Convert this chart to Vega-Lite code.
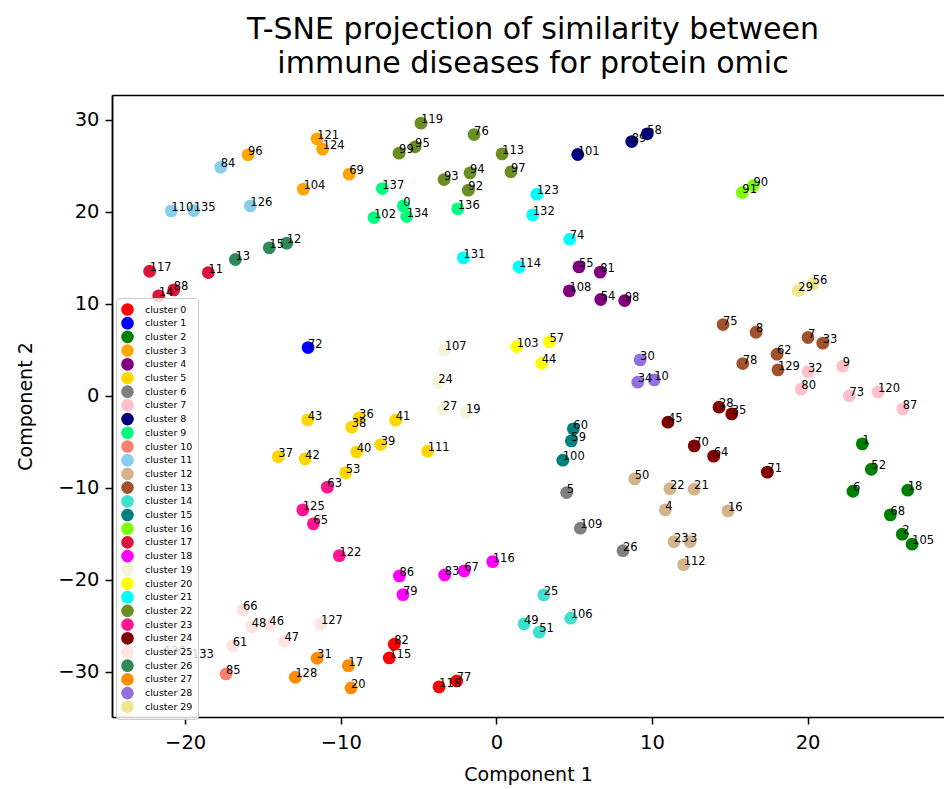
{
  "$schema": "https://vega.github.io/schema/vega-lite/v6.json",
  "width": 832,
  "height": 622,
  "autosize": "none",
  "padding": {"left": 112, "top": 95, "right": 0, "bottom": 72},
  "background": "white",
  "title": {
    "text": ["T-SNE projection of similarity between", "immune diseases for protein omic"],
    "font": "DejaVu Sans", "fontSize": 30, "fontWeight": "normal", "color": "black",
    "anchor": "middle", "offset": 16, "lineHeight": 34, "dx": 5
  },
  "resolve": {"axis": {"x": "independent", "y": "independent"}},
  "config": {
    "view": {"stroke": null},
    "axis": {
      "domainColor": "black", "domainWidth": 1.5, "tickColor": "black", "tickWidth": 1.5, "tickSize": 7,
      "labelFont": "DejaVu Sans", "labelFontSize": 19.5, "labelColor": "black", "labelPadding": 6,
      "titleFont": "DejaVu Sans", "titleFontSize": 19, "titleFontWeight": "normal", "titleColor": "black",
      "grid": false
    }
  },
  "data": {"values": [
    {"id": "82", "x": -6.56, "y": -26.99, "cluster": "cluster 0"},
    {"id": "115", "x": -6.88, "y": -28.48, "cluster": "cluster 0"},
    {"id": "118", "x": -3.68, "y": -31.63, "cluster": "cluster 0"},
    {"id": "77", "x": -2.55, "y": -30.98, "cluster": "cluster 0"},
    {"id": "72", "x": -12.10, "y": 5.25, "cluster": "cluster 1"},
    {"id": "1", "x": 23.52, "y": -5.22, "cluster": "cluster 2"},
    {"id": "52", "x": 24.10, "y": -7.97, "cluster": "cluster 2"},
    {"id": "6", "x": 22.92, "y": -10.36, "cluster": "cluster 2"},
    {"id": "18", "x": 26.44, "y": -10.25, "cluster": "cluster 2"},
    {"id": "68", "x": 25.32, "y": -12.93, "cluster": "cluster 2"},
    {"id": "2", "x": 26.09, "y": -15.03, "cluster": "cluster 2"},
    {"id": "105", "x": 26.72, "y": -16.12, "cluster": "cluster 2"},
    {"id": "96", "x": -15.96, "y": 26.20, "cluster": "cluster 3"},
    {"id": "121", "x": -11.52, "y": 27.93, "cluster": "cluster 3"},
    {"id": "124", "x": -11.16, "y": 26.82, "cluster": "cluster 3"},
    {"id": "69", "x": -9.45, "y": 24.10, "cluster": "cluster 3"},
    {"id": "104", "x": -12.40, "y": 22.47, "cluster": "cluster 3"},
    {"id": "55", "x": 5.31, "y": 14.02, "cluster": "cluster 4"},
    {"id": "81", "x": 6.68, "y": 13.45, "cluster": "cluster 4"},
    {"id": "108", "x": 4.69, "y": 11.41, "cluster": "cluster 4"},
    {"id": "54", "x": 6.71, "y": 10.47, "cluster": "cluster 4"},
    {"id": "98", "x": 8.25, "y": 10.36, "cluster": "cluster 4"},
    {"id": "43", "x": -12.12, "y": -2.61, "cluster": "cluster 5"},
    {"id": "37", "x": -14.01, "y": -6.60, "cluster": "cluster 5"},
    {"id": "42", "x": -12.29, "y": -6.85, "cluster": "cluster 5"},
    {"id": "36", "x": -8.82, "y": -2.39, "cluster": "cluster 5"},
    {"id": "38", "x": -9.29, "y": -3.40, "cluster": "cluster 5"},
    {"id": "41", "x": -6.47, "y": -2.64, "cluster": "cluster 5"},
    {"id": "39", "x": -7.43, "y": -5.29, "cluster": "cluster 5"},
    {"id": "40", "x": -8.97, "y": -6.09, "cluster": "cluster 5"},
    {"id": "111", "x": -4.41, "y": -6.01, "cluster": "cluster 5"},
    {"id": "53", "x": -9.68, "y": -8.34, "cluster": "cluster 5"},
    {"id": "5", "x": 4.52, "y": -10.51, "cluster": "cluster 6"},
    {"id": "109", "x": 5.40, "y": -14.38, "cluster": "cluster 6"},
    {"id": "26", "x": 8.14, "y": -16.82, "cluster": "cluster 6"},
    {"id": "32", "x": 20.03, "y": 2.64, "cluster": "cluster 7"},
    {"id": "9", "x": 22.26, "y": 3.23, "cluster": "cluster 7"},
    {"id": "80", "x": 19.60, "y": 0.73, "cluster": "cluster 7"},
    {"id": "73", "x": 22.69, "y": 0.03, "cluster": "cluster 7"},
    {"id": "120", "x": 24.53, "y": 0.43, "cluster": "cluster 7"},
    {"id": "87", "x": 26.12, "y": -1.41, "cluster": "cluster 7"},
    {"id": "101", "x": 5.23, "y": 26.23, "cluster": "cluster 8"},
    {"id": "89", "x": 8.70, "y": 27.64, "cluster": "cluster 8"},
    {"id": "58", "x": 9.70, "y": 28.48, "cluster": "cluster 8"},
    {"id": "137", "x": -7.33, "y": 22.53, "cluster": "cluster 9"},
    {"id": "0", "x": -5.98, "y": 20.65, "cluster": "cluster 9"},
    {"id": "134", "x": -5.76, "y": 19.49, "cluster": "cluster 9"},
    {"id": "102", "x": -7.86, "y": 19.38, "cluster": "cluster 9"},
    {"id": "136", "x": -2.48, "y": 20.33, "cluster": "cluster 9"},
    {"id": "85", "x": -17.37, "y": -30.22, "cluster": "cluster 10"},
    {"id": "84", "x": -17.71, "y": 24.86, "cluster": "cluster 11"},
    {"id": "110", "x": -20.89, "y": 20.11, "cluster": "cluster 11"},
    {"id": "135", "x": -19.45, "y": 20.14, "cluster": "cluster 11"},
    {"id": "126", "x": -15.81, "y": 20.65, "cluster": "cluster 11"},
    {"id": "50", "x": 8.89, "y": -9.02, "cluster": "cluster 12"},
    {"id": "22", "x": 11.16, "y": -10.08, "cluster": "cluster 12"},
    {"id": "21", "x": 12.71, "y": -10.14, "cluster": "cluster 12"},
    {"id": "4", "x": 10.86, "y": -12.39, "cluster": "cluster 12"},
    {"id": "16", "x": 14.89, "y": -12.50, "cluster": "cluster 12"},
    {"id": "23", "x": 11.42, "y": -15.84, "cluster": "cluster 12"},
    {"id": "3", "x": 12.45, "y": -15.84, "cluster": "cluster 12"},
    {"id": "112", "x": 12.04, "y": -18.34, "cluster": "cluster 12"},
    {"id": "75", "x": 14.57, "y": 7.75, "cluster": "cluster 13"},
    {"id": "8", "x": 16.69, "y": 6.92, "cluster": "cluster 13"},
    {"id": "7", "x": 20.03, "y": 6.34, "cluster": "cluster 13"},
    {"id": "33", "x": 20.98, "y": 5.73, "cluster": "cluster 13"},
    {"id": "62", "x": 18.04, "y": 4.53, "cluster": "cluster 13"},
    {"id": "78", "x": 15.84, "y": 3.51, "cluster": "cluster 13"},
    {"id": "129", "x": 18.10, "y": 2.83, "cluster": "cluster 13"},
    {"id": "25", "x": 3.05, "y": -21.63, "cluster": "cluster 14"},
    {"id": "106", "x": 4.78, "y": -24.16, "cluster": "cluster 14"},
    {"id": "51", "x": 2.76, "y": -25.68, "cluster": "cluster 14"},
    {"id": "49", "x": 1.78, "y": -24.78, "cluster": "cluster 14"},
    {"id": "60", "x": 4.95, "y": -3.59, "cluster": "cluster 15"},
    {"id": "59", "x": 4.82, "y": -4.89, "cluster": "cluster 15"},
    {"id": "100", "x": 4.27, "y": -6.99, "cluster": "cluster 15"},
    {"id": "91", "x": 15.81, "y": 22.10, "cluster": "cluster 16"},
    {"id": "90", "x": 16.52, "y": 22.86, "cluster": "cluster 16"},
    {"id": "117", "x": -22.28, "y": 13.55, "cluster": "cluster 17"},
    {"id": "11", "x": -18.51, "y": 13.40, "cluster": "cluster 17"},
    {"id": "88", "x": -20.73, "y": 11.52, "cluster": "cluster 17"},
    {"id": "14", "x": -21.70, "y": 10.87, "cluster": "cluster 17"},
    {"id": "86", "x": -6.23, "y": -19.57, "cluster": "cluster 18"},
    {"id": "79", "x": -6.00, "y": -21.60, "cluster": "cluster 18"},
    {"id": "83", "x": -3.32, "y": -19.46, "cluster": "cluster 18"},
    {"id": "67", "x": -2.06, "y": -19.02, "cluster": "cluster 18"},
    {"id": "116", "x": -0.23, "y": -18.01, "cluster": "cluster 18"},
    {"id": "107", "x": -3.32, "y": 5.00, "cluster": "cluster 19"},
    {"id": "24", "x": -3.73, "y": 1.45, "cluster": "cluster 19"},
    {"id": "27", "x": -3.44, "y": -1.49, "cluster": "cluster 19"},
    {"id": "19", "x": -1.95, "y": -1.82, "cluster": "cluster 19"},
    {"id": "103", "x": 1.31, "y": 5.36, "cluster": "cluster 20"},
    {"id": "57", "x": 3.41, "y": 5.90, "cluster": "cluster 20"},
    {"id": "44", "x": 2.92, "y": 3.55, "cluster": "cluster 20"},
    {"id": "123", "x": 2.60, "y": 21.92, "cluster": "cluster 21"},
    {"id": "132", "x": 2.34, "y": 19.67, "cluster": "cluster 21"},
    {"id": "74", "x": 4.72, "y": 17.03, "cluster": "cluster 21"},
    {"id": "131", "x": -2.12, "y": 15.00, "cluster": "cluster 21"},
    {"id": "114", "x": 1.46, "y": 14.02, "cluster": "cluster 21"},
    {"id": "119", "x": -4.84, "y": 29.64, "cluster": "cluster 22"},
    {"id": "76", "x": -1.43, "y": 28.40, "cluster": "cluster 22"},
    {"id": "95", "x": -5.22, "y": 27.07, "cluster": "cluster 22"},
    {"id": "99", "x": -6.25, "y": 26.38, "cluster": "cluster 22"},
    {"id": "113", "x": 0.37, "y": 26.30, "cluster": "cluster 22"},
    {"id": "93", "x": -3.36, "y": 23.51, "cluster": "cluster 22"},
    {"id": "94", "x": -1.69, "y": 24.24, "cluster": "cluster 22"},
    {"id": "97", "x": 0.94, "y": 24.35, "cluster": "cluster 22"},
    {"id": "92", "x": -1.80, "y": 22.36, "cluster": "cluster 22"},
    {"id": "63", "x": -10.86, "y": -9.92, "cluster": "cluster 23"},
    {"id": "125", "x": -12.44, "y": -12.39, "cluster": "cluster 23"},
    {"id": "65", "x": -11.76, "y": -13.91, "cluster": "cluster 23"},
    {"id": "122", "x": -10.09, "y": -17.36, "cluster": "cluster 23"},
    {"id": "28", "x": 14.31, "y": -1.23, "cluster": "cluster 24"},
    {"id": "35", "x": 15.13, "y": -1.96, "cluster": "cluster 24"},
    {"id": "45", "x": 11.03, "y": -2.86, "cluster": "cluster 24"},
    {"id": "70", "x": 12.72, "y": -5.43, "cluster": "cluster 24"},
    {"id": "64", "x": 13.97, "y": -6.55, "cluster": "cluster 24"},
    {"id": "71", "x": 17.42, "y": -8.29, "cluster": "cluster 24"},
    {"id": "66", "x": -16.28, "y": -23.23, "cluster": "cluster 25"},
    {"id": "48", "x": -15.72, "y": -25.11, "cluster": "cluster 25"},
    {"id": "46", "x": -14.59, "y": -24.89, "cluster": "cluster 25"},
    {"id": "61", "x": -16.94, "y": -27.14, "cluster": "cluster 25"},
    {"id": "47", "x": -13.62, "y": -26.66, "cluster": "cluster 25"},
    {"id": "127", "x": -11.27, "y": -24.78, "cluster": "cluster 25"},
    {"id": "130", "x": -21.36, "y": -28.15, "cluster": "cluster 25"},
    {"id": "133", "x": -19.56, "y": -28.51, "cluster": "cluster 25"},
    {"id": "13", "x": -16.77, "y": 14.82, "cluster": "cluster 26"},
    {"id": "15", "x": -14.59, "y": 16.09, "cluster": "cluster 26"},
    {"id": "12", "x": -13.47, "y": 16.60, "cluster": "cluster 26"},
    {"id": "31", "x": -11.52, "y": -28.51, "cluster": "cluster 27"},
    {"id": "128", "x": -12.92, "y": -30.58, "cluster": "cluster 27"},
    {"id": "17", "x": -9.51, "y": -29.32, "cluster": "cluster 27"},
    {"id": "20", "x": -9.34, "y": -31.74, "cluster": "cluster 27"},
    {"id": "30", "x": 9.24, "y": 3.91, "cluster": "cluster 28"},
    {"id": "34", "x": 9.09, "y": 1.49, "cluster": "cluster 28"},
    {"id": "10", "x": 10.15, "y": 1.74, "cluster": "cluster 28"},
    {"id": "29", "x": 19.41, "y": 11.45, "cluster": "cluster 29"},
    {"id": "56", "x": 20.33, "y": 12.14, "cluster": "cluster 29"}
  ]},
  "layer": [
    {
      "mark": {"type": "point", "filled": true, "opacity": 1, "size": 165, "shape": "circle", "strokeWidth": 0},
      "encoding": {
        "x": {"field": "x", "type": "quantitative", "scale": {"domain": [-24.7, 28.77], "nice": false, "zero": false},
              "axis": {"values": [-20, -10, 0, 10, 20], "title": "Component 1", "titlePadding": 14, "labelPadding": 9}},
        "y": {"field": "y", "type": "quantitative", "scale": {"domain": [-34.9, 32.7], "nice": false, "zero": false},
              "axis": {"values": [-30, -20, -10, 0, 10, 20, 30], "title": "Component 2", "titlePadding": 22}},
        "color": {
          "field": "cluster", "type": "nominal",
          "scale": {
            "domain": ["cluster 0","cluster 1","cluster 2","cluster 3","cluster 4","cluster 5","cluster 6","cluster 7","cluster 8","cluster 9","cluster 10","cluster 11","cluster 12","cluster 13","cluster 14","cluster 15","cluster 16","cluster 17","cluster 18","cluster 19","cluster 20","cluster 21","cluster 22","cluster 23","cluster 24","cluster 25","cluster 26","cluster 27","cluster 28","cluster 29"],
            "range": ["#FF0000","#0000FF","#008000","#FFA500","#800080","#FFD700","#808080","#FFC0CB","#000080","#00FF7F","#FA8072","#87CEEB","#D2B48C","#A0522D","#40E0D0","#008080","#7CFC00","#DC143C","#FF00FF","#F5F5DC","#FFFF00","#00FFFF","#6B8E23","#FF1493","#800000","#FFE4E1","#2E8B57","#FF8C00","#9370DB","#F0E68C"]
          },
          "legend": {
            "title": null, "orient": "none", "legendX": 4, "legendY": 203,
            "symbolType": "circle", "symbolSize": 160, "symbolStrokeWidth": 0, "symbolOpacity": 1,
            "labelFont": "DejaVu Sans", "labelFontSize": 9.5, "labelColor": "black", "labelOffset": 11,
            "rowPadding": 0.7, "padding": 5, "strokeColor": "#cccccc", "fillColor": "rgba(255,255,255,0.8)",
            "cornerRadius": 3, "labelLimit": 200
          }
        }
      }
    },
    {
      "mark": {"type": "text", "align": "left", "baseline": "alphabetic", "font": "DejaVu Sans", "fontSize": 11.5, "color": "black"},
      "encoding": {
        "x": {"field": "x", "type": "quantitative",
              "axis": {"orient": "top", "labels": false, "ticks": false, "title": null, "domain": true}},
        "y": {"field": "y", "type": "quantitative",
              "axis": {"orient": "left", "labels": false, "ticks": false, "title": null, "domain": true}},
        "text": {"field": "id"}
      }
    }
  ]
}
